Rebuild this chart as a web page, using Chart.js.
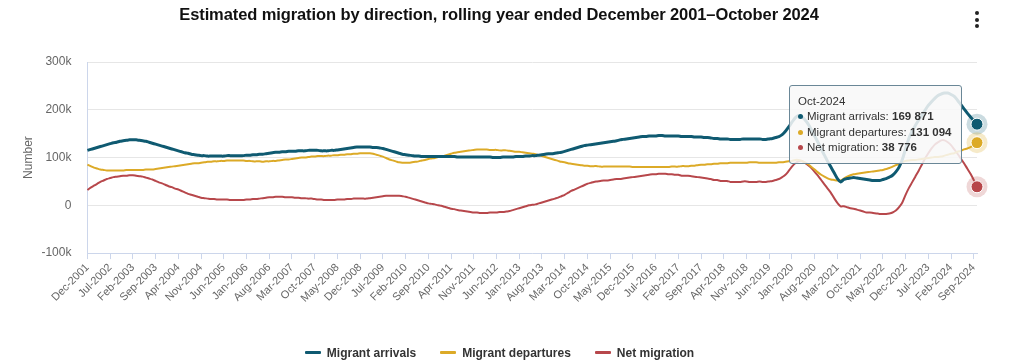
<!DOCTYPE html>
<html>
<head>
<meta charset="utf-8">
<script src="https://cdn.jsdelivr.net/npm/chart.js@4.4.1/dist/chart.umd.min.js"></script>
<style>
  html, body { margin: 0; padding: 0; background: #fff; }
  #wrap { position: relative; width: 1024px; height: 362px; overflow: hidden; font-family: "Liberation Sans", Arial, sans-serif; }
  #title { position: absolute; left: 0; top: 5px; width: 998px; text-align: center; font-weight: bold; font-size: 16.5px; color: #111; letter-spacing: -0.1px; z-index: 2; }
  #menu { position: absolute; left: 975px; top: 11px; width: 4px; z-index: 2; }
  #menu span { display: block; width: 4px; height: 4px; border-radius: 50%; background: #222; margin-bottom: 2.5px; }
  #legend { position: absolute; left: 0; top: 345px; width: 999px; text-align: center; font-size: 12px; font-weight: bold; color: #333; line-height: 16px; white-space: nowrap; z-index: 2; }
  #legend .item { display: inline-block; margin: 0 12px; }
  #legend .sym { display: inline-block; width: 16px; height: 3px; vertical-align: middle; margin: 0 6px 2px 0; border-radius: 1px; }
  #tip { position: absolute; opacity: 0; background: rgba(248,248,248,0.86); border: 1px solid #6a8797; border-radius: 3px; padding: 8px 9px 7px 8px; font-size: 11.5px; color: #333; line-height: 15.5px; white-space: nowrap; pointer-events: none; z-index: 3; }
  #tip .dot { display: inline-block; width: 5px; height: 5px; border-radius: 50%; margin: 0 4px 1px 0; vertical-align: middle; }
  canvas { position: absolute; left: 0; top: 0; }
</style>
</head>
<body>
<div id="wrap">
  <canvas id="c" width="1024" height="362"></canvas>
  <div id="title">Estimated migration by direction, rolling year ended December 2001–October 2024</div>
  <div id="menu"><span></span><span></span><span></span></div>
  <div id="legend"></div>
  <div id="tip"></div>
</div>
<script>
// ---- Data (thousands), monthly, rolling year ended Dec-2001 .. Oct-2024 ----
const startYear = 2001;
const startMonth = 11; // December (0-based)
const monthNames = ['Jan','Feb','Mar','Apr','May','Jun','Jul','Aug','Sep','Oct','Nov','Dec'];
const tickEvery = 7;
const seriesNames = ['Migrant arrivals', 'Migrant departures', 'Net migration'];

const arrivals = [
  115,
  117,119,121,123,125,127,129,131,132,134,135,136,
  137,137,137,136,135,134,132,130,128,126,124,122,
  120,118,116,114,112,110,109,107,106,105,104,104,
  103,103,103,103,103,103,104,104,104,104,104,104,
  105,105,106,106,107,107,108,109,110,111,111,112,
  112,113,113,113,114,114,114,115,115,115,115,114,
  114,114,115,115,116,117,118,119,120,121,122,122,
  122,122,122,121,121,120,119,117,115,113,111,109,
  107,106,105,104,103,103,102,102,102,102,102,102,
  102,102,102,102,102,101,101,101,101,101,101,101,
  101,101,101,101,100,100,100,101,101,101,101,102,
  102,102,103,103,104,104,105,106,107,108,108,109,
  110,111,113,115,117,119,121,123,125,126,127,128,
  129,130,131,132,133,134,135,137,138,139,140,141,
  142,143,144,144,145,145,145,146,146,145,145,145,
  145,145,144,144,144,144,143,143,143,142,142,141,
  140,140,139,139,139,138,138,138,138,139,139,139,
  139,139,139,138,138,139,140,142,144,148,155,164,
  174,183,188,186,179,170,158,145,132,118,105,92,
  80,68,56,49,54,56,57,58,57,56,55,54,
  53,52,52,52,54,56,59,63,70,80,96,118,
  140,155,167,178,188,199,209,217,224,230,233,235,
  235,232,228,220,211,202,193,185,177,169.871
];

const departures = [
  85,
  82,79,77,75,74,73,73,73,73,73,73,74,
  74,74,74,74,74,75,75,75,76,77,78,79,
  80,81,82,83,84,85,86,87,88,88,89,90,
  91,91,92,92,93,93,94,94,94,94,94,94,
  93,93,92,92,92,91,92,92,93,93,94,95,
  96,96,97,98,99,100,100,101,102,102,103,103,
  103,104,104,105,105,106,106,107,107,108,108,109,
  109,109,109,108,106,104,102,99,96,94,92,90,
  89,89,89,90,91,92,94,95,97,98,99,101,
  102,104,106,108,110,111,112,113,114,115,116,117,
  117,117,117,116,116,116,115,115,115,114,113,112,
  112,111,110,109,108,107,105,103,101,99,97,95,
  93,91,90,88,87,86,85,84,83,83,82,82,
  82,81,81,81,81,81,81,81,81,81,81,80,
  80,80,80,80,80,80,80,80,80,80,80,81,
  81,81,82,82,82,83,83,84,85,85,86,86,
  87,87,88,88,88,89,89,89,89,89,89,90,
  90,90,89,89,89,89,89,89,90,90,91,92,
  93,95,95,93,90,86,80,75,69,64,60,56.5,
  54,53,52,52,56,60,63,65,66,67,68,69,
  70,71,72,73,74,76,78,81,84,87,90,93,
  94,95,95,96,97,98,99,100,101,101,102,104,
  106,108,109,112,114,117,119,122,126,131.094
];

const netMigration = [
  32,
  37,41,45,49,52,55,57,59,60,61,62,62,
  63,63,62,61,60,58,56,54,51,48,46,43,
  40,38,35,33,30,27,24,22,20,18,16,15,
  14,13,13,12,12,12,12,11,11,11,11,11,
  12,12,13,13,14,15,16,17,17,18,18,18,
  17,17,17,16,16,15,15,14,14,13,12,12,
  11,11,11,11,12,12,12,13,13,14,14,14,
  14,14,15,16,17,18,19,20,20,20,20,20,
  19,18,16,14,12,10,8,6,4,3,2,0,
  -1,-3,-5,-7,-8,-10,-11,-12,-13,-14,-15,-15,
  -16,-16,-16,-15,-15,-15,-14,-14,-13,-12,-10,-8,
  -6,-4,-2,0,1,2,4,6,8,10,12,14,
  16,19,22,26,30,33,36,39,42,45,47,49,
  50,51,52,52,53,54,55,55,56,57,58,59,
  60,61,62,63,64,65,65,66,66,66,65,65,
  64,64,62,62,62,61,60,59,58,57,56,55,
  53,53,51,51,51,49,49,49,49,50,50,49,
  49,49,50,49,49,50,51,53,55,59,64,72,
  81,88,92,93,89,84,78,70,62,53,44,35,
  26,15,5,-2,-2,-4,-6,-7,-9,-11,-13,-15,
  -15,-16,-17,-18,-18,-18,-17,-15,-11,-4,6,22,
  36,48,60,72,85,98,109,119,127,132,136,136,
  132,126,117,108,98,88,77,66,53,38.776
];

const yTicks = { min: -100, max: 300, step: 100 };

// category labels: months
const labels = [];
for (let i = 0; i < arrivals.length; i++) {
  const m = (startMonth + i) % 12;
  const y = startYear + Math.floor((startMonth + i) / 12);
  labels.push(monthNames[m] + '-' + y);
}

const colors = ['#0f5a71', '#dcaa27', '#b7474b'];
const halos  = ['rgba(15,90,113,0.22)', 'rgba(220,170,39,0.25)', 'rgba(183,71,75,0.22)'];
const FONT = '"Liberation Sans", Arial, sans-serif';

function fmt(v) {
  const n = Math.round(v * 1000);
  return String(n).replace(/\B(?=(\d{3})+(?!\d))/g, ' ');
}

const tipEl = document.getElementById('tip');
function externalTip(ctx) {
  const t = ctx.tooltip;
  if (!t || t.opacity === 0 || !t.dataPoints || !t.dataPoints.length) { tipEl.style.opacity = 0; return; }
  let html = '<div>' + t.dataPoints[0].label + '</div>';
  t.dataPoints.forEach(dp => {
    html += '<div><span class="dot" style="background:' + colors[dp.datasetIndex] + '"></span>' +
      dp.dataset.label + ': <b>' + fmt(dp.raw) + '</b></div>';
  });
  tipEl.innerHTML = html;
  const el = t.dataPoints[0].element;
  const w = tipEl.offsetWidth, h = tipEl.offsetHeight;
  tipEl.style.left = (el.x - 15 - w) + 'px';
  tipEl.style.top = (el.y - h / 2) + 'px';
  tipEl.style.opacity = 1;
}

const haloPlugin = {
  id: 'halo',
  afterDatasetsDraw(chart) {
    const c = chart.ctx;
    chart.getActiveElements().forEach(a => {
      const p = a.element;
      c.save();
      c.beginPath(); c.arc(p.x, p.y, 10.5, 0, Math.PI * 2);
      c.fillStyle = halos[a.datasetIndex]; c.fill();
      c.beginPath(); c.arc(p.x, p.y, 6, 0, Math.PI * 2);
      c.fillStyle = colors[a.datasetIndex]; c.fill();
      c.lineWidth = 1; c.strokeStyle = '#fff'; c.stroke();
      c.restore();
    });
  }
};

const ds = [arrivals, departures, netMigration].map((d, k) => ({
  label: seriesNames[k],
  data: d,
  borderColor: colors[k],
  backgroundColor: colors[k],
  borderWidth: k === 0 ? 3 : 2,
  pointRadius: 0,
  pointHoverRadius: 0,
  pointHitRadius: 0,
  tension: 0.3,
  fill: false
}));

const chart = new Chart(document.getElementById('c'), {
  type: 'line',
  data: { labels: labels, datasets: ds },
  options: {
    responsive: false,
    animation: false,
    events: [],
    layout: { padding: { left: 3, right: 47, top: 62, bottom: 55 } },
    interaction: { mode: 'index', intersect: false },
    scales: {
      x: {
        offset: false,
        border: { color: '#ccd6eb', width: 1 },
        grid: { drawOnChartArea: false, color: '#ccd6eb', tickLength: 6 },
        ticks: {
          autoSkip: false, maxRotation: 45, minRotation: 45, padding: 2,
          color: '#666', font: { family: FONT, size: 11 },
          callback: (v, i) => (i % tickEvery === 0 ? labels[i] : null)
        }
      },
      y: {
        min: yTicks.min, max: yTicks.max,
        border: { color: '#ccd6eb', width: 1 },
        grid: { color: '#e6e6e6', drawTicks: false },
        ticks: {
          stepSize: yTicks.step, padding: 16, color: '#666',
          font: { family: FONT, size: 12 },
          callback: v => (v === 0 ? '0' : v + 'k')
        },
        title: { display: true, text: 'Number', color: '#666', font: { family: FONT, size: 12 }, padding: { top: 18, bottom: -10 } }
      }
    },
    plugins: {
      legend: { display: false },
      tooltip: { enabled: false, external: externalTip }
    }
  },
  plugins: [haloPlugin]
});

// HTML legend built from the chart's datasets
const legendEl = document.getElementById('legend');
chart.data.datasets.forEach(d => {
  const it = document.createElement('span');
  it.className = 'item';
  it.innerHTML = '<span class="sym" style="background:' + d.borderColor + '"></span>' + d.label;
  legendEl.appendChild(it);
});

const last = labels.length - 1;
const act = [0, 1, 2].map(d => ({ datasetIndex: d, index: last }));
chart.setActiveElements(act);
chart.tooltip.setActiveElements(act, { x: 0, y: 0 });
chart.update('none');
</script>
</body>
</html>
